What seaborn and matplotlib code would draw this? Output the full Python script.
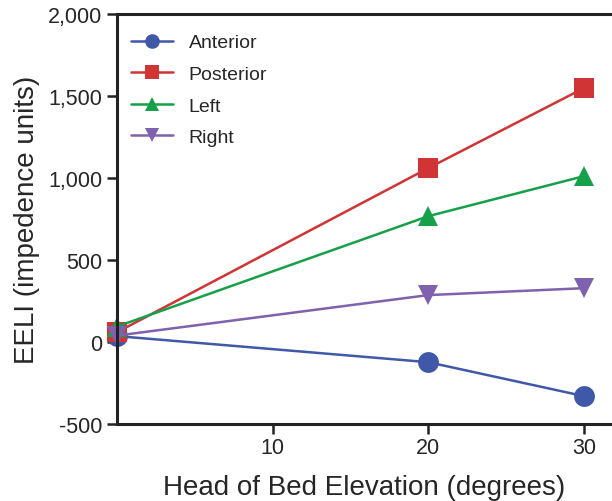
import pandas as pd
import seaborn as sns
import matplotlib.pyplot as plt
from matplotlib.ticker import FuncFormatter

# data
elevation = [0, 20, 30]
anterior = [37, -122, -329]
posterior = [60, 1061, 1549]
left = [95, 768, 1012]
right = [40, 287, 329]

regions = ['Anterior', 'Posterior', 'Left', 'Right']
colors = ['#3F58A8', '#D03434', '#16A04A', '#7E62AE']
markers = ['o', 's', '^', 'v']

rows = []
for name, vals in zip(regions, [anterior, posterior, left, right]):
    for x, v in zip(elevation, vals):
        rows.append({'Elevation': x, 'EELI': v, 'Region': name})
df = pd.DataFrame(rows)

sns.set_style('ticks')
plt.rcParams['font.family'] = ['Liberation Sans', 'DejaVu Sans']

fig = plt.figure(figsize=(6.12, 5.02), dpi=100)
ax = fig.add_axes([0.191, 0.153, 0.809, 0.817])

sns.lineplot(data=df, x='Elevation', y='EELI', hue='Region', style='Region',
             hue_order=regions, style_order=regions,
             palette=dict(zip(regions, colors)),
             markers=dict(zip(regions, markers)), dashes=False,
             markersize=15, markeredgewidth=0, linewidth=1.8,
             clip_on=False, ax=ax)

ax.set_xlim(0, 31.8)
ax.set_ylim(-500, 2000)
ax.set_xticks([10, 20, 30])
ax.set_yticks([-500, 0, 500, 1000, 1500, 2000])
ax.yaxis.set_major_formatter(FuncFormatter(lambda v, p: f'{int(v):,}'))

ax.set_xlabel('Head of Bed Elevation (degrees)', fontsize=20, labelpad=12)
ax.set_ylabel('EELI (impedence units)', fontsize=20, labelpad=6)
ax.tick_params(axis='both', labelsize=15.5, width=1.8, length=7, color='#222222')
ax.tick_params(axis='x', pad=2)

for s in ['left', 'bottom', 'top']:
    ax.spines[s].set_linewidth(2.2)
    ax.spines[s].set_color('#222222')
ax.spines['right'].set_visible(False)

handles, labels = ax.get_legend_handles_labels()
ax.legend(handles, labels, loc='upper left', frameon=False, fontsize=14,
          markerscale=0.7, handlelength=2.2, labelspacing=0.72,
          borderaxespad=0.3, bbox_to_anchor=(0.0, 0.985))

fig.savefig('out.png', dpi=100)
